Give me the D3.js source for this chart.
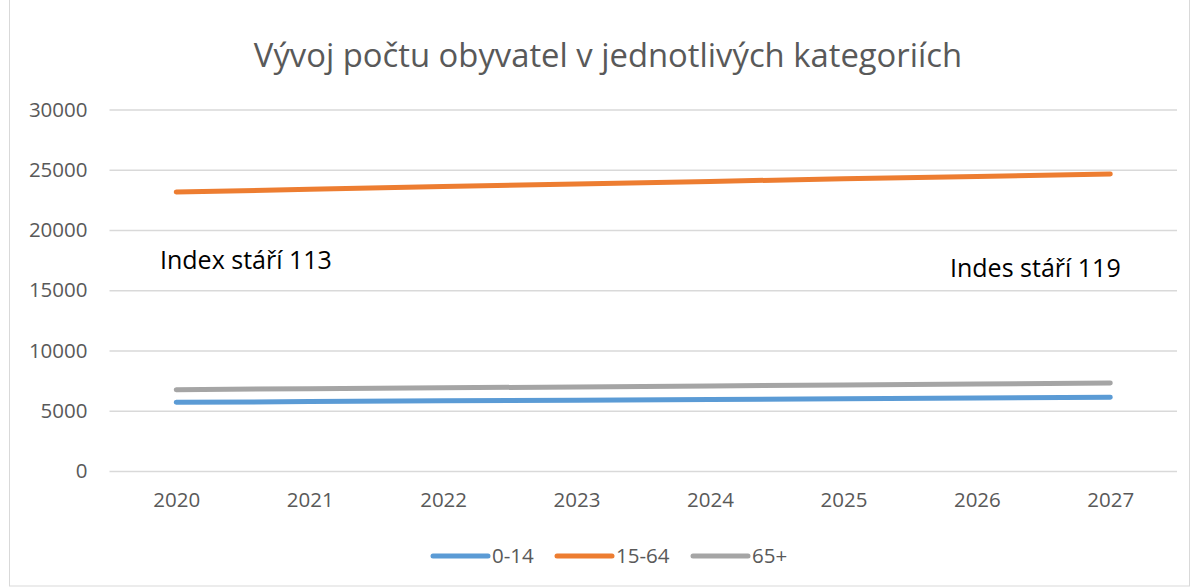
<!DOCTYPE html>
<html>
<head>
<meta charset="utf-8">
<script src="https://cdn.jsdelivr.net/npm/d3@7"></script>
<style>
  body { margin: 0; background: #fff; }
  text { font-family: "Open Sans", "Noto Sans", sans-serif; }
</style>
</head>
<body>
<div id="chart"></div>
<script>
const years = ["2020", "2021", "2022", "2023", "2024", "2025", "2026", "2027"];
const kids = [5700, 5760, 5820, 5880, 5940, 6000, 6060, 6120];
const working = [23150, 23380, 23600, 23820, 24030, 24250, 24450, 24650];
const seniors = [6750, 6830, 6900, 6980, 7060, 7140, 7220, 7300];
const yTicks = [0, 5000, 10000, 15000, 20000, 25000, 30000];
const seriesNames = ["0-14", "15-64", "65+"];
const colors = ["#5B9BD5", "#ED7D31", "#A5A5A5"];

const W = 1192, H = 587;
const margin = {top: 109.5, right: 15, bottom: 116, left: 109.5};
const width = W - margin.left - margin.right;
const height = H - margin.top - margin.bottom;

const svg = d3.select("#chart").append("svg")
    .attr("width", W)
    .attr("height", H);

// chart frame
svg.append("rect")
    .attr("x", 9.5).attr("y", -1)
    .attr("width", W - 12).attr("height", H)
    .attr("fill", "none")
    .attr("stroke", "#d9d9d9");

svg.append("text")
    .attr("x", 608).attr("y", 67)
    .attr("text-anchor", "middle")
    .attr("fill", "#595959")
    .style("font-size", "32.8px")
    .text("Vývoj počtu obyvatel v jednotlivých kategoriích");

const g = svg.append("g")
    .attr("transform", "translate(" + margin.left + "," + margin.top + ")");

const xScale = d3.scalePoint().domain(years).range([0, width]).padding(0.5);
const yScale = d3.scaleLinear().domain([0, 30000]).range([height, 0]);

// gridlines
g.append("g")
    .attr("class", "grid")
    .call(d3.axisLeft(yScale).tickValues(yTicks).tickSize(-width).tickFormat(""))
    .call(a => a.select(".domain").remove())
    .call(a => a.selectAll("line").attr("stroke", "#d9d9d9").attr("stroke-width", 1.3));

// y labels
g.append("g")
    .call(d3.axisLeft(yScale).tickValues(yTicks).tickSize(0).tickPadding(22).tickFormat(d3.format("d")))
    .call(a => a.select(".domain").remove())
    .call(a => a.selectAll("text").attr("fill", "#595959").style("font-size", "20.5px"));

// x labels
g.append("g")
    .attr("transform", "translate(0," + height + ")")
    .call(d3.axisBottom(xScale).tickSize(0).tickPadding(21))
    .call(a => a.select(".domain").remove())
    .call(a => a.selectAll("text").attr("fill", "#595959").style("font-size", "20.5px"));

const allSeries = [kids, working, seniors];
const line = d3.line()
    .x((d, i) => xScale(years[i]))
    .y(d => yScale(d));

g.selectAll(".series")
    .data(allSeries)
    .join("path")
    .attr("class", "series")
    .attr("d", d => line(d))
    .attr("fill", "none")
    .attr("stroke", (d, i) => colors[i])
    .attr("stroke-width", 5)
    .attr("stroke-linecap", "round");

// annotations
svg.append("text")
    .attr("x", 160).attr("y", 269)
    .attr("fill", "#000")
    .style("font-size", "25px")
    .text("Index stáří 113");
svg.append("text")
    .attr("x", 950).attr("y", 277)
    .attr("fill", "#000")
    .style("font-size", "25px")
    .text("Indes stáří 119");

// legend
const legendX = [433, 557, 693];
const legend = svg.append("g").selectAll("g")
    .data(seriesNames)
    .join("g")
    .attr("transform", (d, i) => "translate(" + legendX[i] + ",556)");
legend.append("line")
    .attr("x1", 0).attr("x2", 55)
    .attr("stroke", (d, i) => colors[i])
    .attr("stroke-width", 5)
    .attr("stroke-linecap", "round");
legend.append("text")
    .attr("x", 59).attr("y", 7)
    .attr("fill", "#595959")
    .style("font-size", "20.5px")
    .text(d => d);
</script>
</body>
</html>
